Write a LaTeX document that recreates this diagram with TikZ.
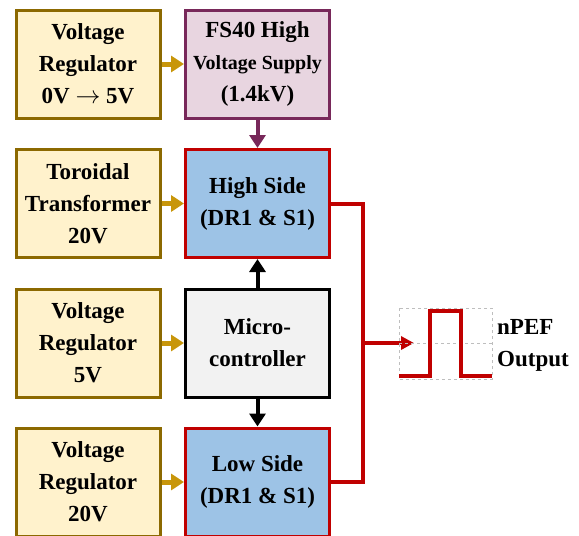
\documentclass[tikz,border=0pt]{standalone}
\usepackage{fontspec}
\setmainfont{Liberation Serif}
\usetikzlibrary{arrows.meta,positioning}
\definecolor{SupplyFill}{RGB}{255,242,204}
\definecolor{SupplyEdge}{RGB}{140,105,0}
\definecolor{FeedGold}{RGB}{200,150,10}
\definecolor{HVFill}{RGB}{232,213,224}
\definecolor{HVEdge}{RGB}{120,40,90}
\definecolor{SideFill}{RGB}{157,195,230}
\definecolor{SideRed}{RGB}{192,0,0}
\definecolor{CtrlFill}{RGB}{242,242,242}
\definecolor{GridGray}{RGB}{190,190,190}

\begin{document}
\begin{tikzpicture}[x=1pt,y=-1pt,>={Triangle[length=13pt,width=16pt]},
    block/.style={draw,line width=3pt,minimum width=144pt,minimum height=108pt,
      inner sep=0pt,align=center,font=\fontsize{23}{32}\selectfont\bfseries},
    supply/.style={block,draw=SupplyEdge,fill=SupplyFill},
    hvbox/.style={block,draw=HVEdge,fill=HVFill},
    sidebox/.style={block,draw=SideRed,fill=SideFill},
    ctrlbox/.style={block,draw=black,fill=CtrlFill},
    feed/.style={->,line width=5pt,FeedGold},
    signal/.style={->,line width=4pt,black},
    outline/.style={line width=4pt,SideRed},
    gridline/.style={GridGray,dashed,line width=0.7pt}]
  \useasboundingbox (0,0) rectangle (579,536);
  % left column: supplies
  \node[supply] (vr1) at (88,64) {Voltage\\Regulator\\0V $\rightarrow$ 5V};
  \node[supply] (tt) at (88,203.5) {Toroidal\\Transformer\\20V};
  \node[supply] (vr2) at (88,343) {Voltage\\Regulator\\5V};
  \node[supply] (vr3) at (88,482) {Voltage\\Regulator\\20V};
  % middle column
  \node[hvbox] (hv) at (257.5,64) {FS40 High\\{\fontsize{20}{32}\selectfont Voltage Supply}\\(1.4kV)};
  \node[sidebox] (hs) at (257.5,203.5) {High Side\\(DR1 \& S1)};
  \node[ctrlbox] (mc) at (257.5,343) {Micro-\\controller};
  \node[sidebox] (ls) at (257.5,482) {Low Side\\(DR1 \& S1)};
  \draw[feed] (vr1) -- (hv);
  \draw[feed] (tt) -- (hs);
  \draw[feed] (vr2) -- (mc);
  \draw[feed] (vr3) -- (ls);
  \draw[->,line width=4pt,HVEdge] (hv) -- (hs);
  \draw[signal] (mc) -- (hs);
  \draw[signal] (mc) -- (ls);
  % output bus and pulse
  \coordinate (bus) at (362,343);
  \coordinate (pulsein) at (414,343);
  \draw[outline] (hs.east) -- ++(32,0) |- (ls.east);
  \draw[outline,->,>={Triangle[length=13pt,width=13pt]}] (bus) -- (pulsein);
  \draw[gridline] (399,308) rectangle (492,379);
  \draw[gridline] (430,308) -- (430,379) (461,308) -- (461,379) (399,343.5) -- (492,343.5);
  \draw[outline] (399,376) -- (430,376) -- (430,311) -- (461,311) -- (461,376) -- (492,376);
  \node[anchor=west,align=left,inner sep=0pt,font=\fontsize{23}{32}\selectfont\bfseries]
    (out) at (497,345) {nPEF\\Output};
\end{tikzpicture}
\end{document}
